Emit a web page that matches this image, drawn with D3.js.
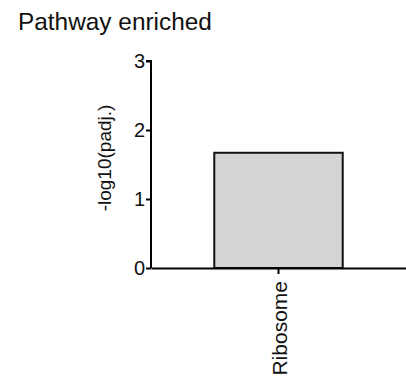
<!DOCTYPE html>
<html>
<head>
<meta charset="utf-8">
<script src="https://cdn.jsdelivr.net/npm/d3@7"></script>
<style>
  body { margin: 0; background: #fff; }
  text { fill: #111; }
</style>
</head>
<body>
<svg width="406" height="382"></svg>
<script>
// data
var pathways = ["Ribosome"];
var scores = [1.67];
var yTicks = [0, 1, 2, 3];

const svg = d3.select("svg");
var plotLeft = 151, plotRight = 406, plotTop = 61, plotBottom = 268;
var font = "Liberation Sans, Arial, sans-serif";

// title
svg.append("text")
    .attr("x", 18)
    .attr("y", 30)
    .style("font-family", font)
    .style("font-size", "24.4px")
    .text("Pathway enriched");

var x = d3.scaleBand().domain(pathways).range([plotLeft, plotRight]).padding(0.33);
var y = d3.scaleLinear().domain([0, 3]).range([plotBottom, plotTop]);

// bars
svg.selectAll("rect.bar")
    .data(pathways)
    .enter()
    .append("rect")
    .attr("class", "bar")
    .attr("x", function(d){ return x(d); })
    .attr("width", x.bandwidth())
    .attr("y", function(d,i){ return y(scores[i]); })
    .attr("height", function(d,i){ return y(0) - y(scores[i]); })
    .attr("fill", "#d4d4d4")
    .attr("stroke", "#111")
    .attr("stroke-width", 2);

// y axis
var yAxis = svg.append("g")
    .attr("transform", "translate(" + plotLeft + ",0)")
    .call(d3.axisLeft(y).tickValues(yTicks).tickFormat(d3.format("d")).tickSize(5).tickPadding(1));
yAxis.select(".domain").attr("stroke-width", 2).attr("d", "M-5," + plotTop + "H0V" + plotBottom);
yAxis.selectAll(".tick line").attr("stroke-width", 2);
yAxis.selectAll("text")
    .style("font-family", font)
    .style("font-size", "20px")
    .attr("fill", "#111");

// x axis
var xAxis = svg.append("g")
    .attr("transform", "translate(0," + plotBottom + ")")
    .call(d3.axisBottom(x).tickSize(6).tickSizeOuter(0).tickPadding(4));
xAxis.select(".domain").attr("stroke-width", 2);
xAxis.selectAll(".tick line").attr("stroke-width", 2);
xAxis.selectAll("text")
    .style("font-family", font)
    .style("font-size", "21px")
    .attr("fill", "#111")
    .attr("transform", "rotate(-90)")
    .attr("text-anchor", "end")
    .attr("x", -13)
    .attr("y", 8)
    .attr("dy", 0);

// y label
svg.append("text")
    .attr("transform", "translate(111,158) rotate(-90)")
    .attr("text-anchor", "middle")
    .style("font-family", font)
    .style("font-size", "19px")
    .text("-log10(padj.)");
</script>
</body>
</html>
